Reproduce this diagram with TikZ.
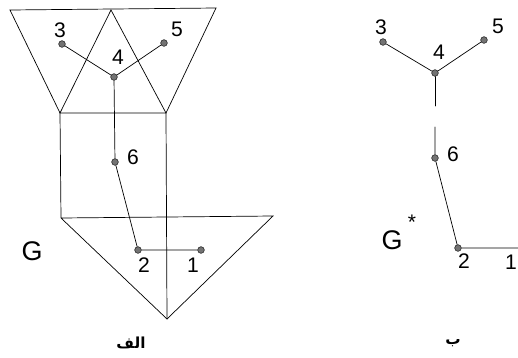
\documentclass[tikz,border=0pt]{standalone}
\usepackage{fontspec}
\setmainfont{Liberation Sans}
\newfontfamily\arabicfont[Script=Arabic]{DejaVu Sans}
\TeXXeTstate=1
\usetikzlibrary{calc,positioning}

\begin{document}
\begin{tikzpicture}[x=0.03cm,y=-0.03cm,line cap=round,line width=0.6pt,
  vtx/.style={circle,fill=black!55,draw=black!85,line width=0.5pt,inner sep=0pt,minimum size=0.2cm},
  num/.style={font=\fontsize{18}{20}\selectfont,inner sep=0pt},
  gname/.style={font=\fontsize{23}{26}\selectfont,inner sep=0pt},
  subcap/.style={font=\arabicfont\bfseries\fontsize{13}{14}\selectfont,inner sep=0pt}]
\clip (0,0) rectangle (518,358);
% faces of G
\coordinate (tl) at (10,10); \coordinate (tm) at (111,10); \coordinate (tr) at (216,8);
\coordinate (ml) at (60,113); \coordinate (mr) at (166,113);
\coordinate (bl) at (61,218); \coordinate (br) at (273,216); \coordinate (ap) at (167,319);
\draw (tl)--(tr)--(mr)--(ml)--cycle;
\draw (ml)--(tm)--(mr);
\draw (ml)--(bl)--(ap)--(br)--(bl);
\draw (mr)--(ap);
% G
\node[vtx] (v3) at (62,44) {}; \node[vtx] (v5) at (164,43) {};
\node[vtx] (v4) at (114,77) {}; \node[vtx] (v6) at (115,162) {};
\node[vtx] (v2) at (138,250) {}; \node[vtx] (v1) at (201,250) {};
\draw (v3)--(v4)--(v5); \draw (v4)--(v6)--(v2)--(v1);
\node[num] at (60,30) {3}; \node[num] at (177,29) {5}; \node[num] at (118,57) {4};
\node[num] at (133,157) {6}; \node[num] at (144,265) {2}; \node[num] at (193,265) {1};
\node[gname] (G) at (32,251) {G};
\node[subcap] at (131,343) {\beginR الف\endR};
% G*
\node[vtx] (w3) at (383,42) {}; \node[vtx] (w5) at (484,40) {};
\node[vtx] (w4) at (435,73) {}; \node[vtx] (w6) at (435,158) {};
\node[vtx] (w2) at (458,248) {}; \coordinate (w1) at (530,248);
\coordinate (g1) at (435,106); \coordinate (g2) at (435,127);
\draw (w3)--(w4)--(w5); \draw (w4)--(g1); \draw (g2)--(w6)--(w2)--(w1);
\node[num] at (381,27) {3}; \node[num] at (498,26) {5}; \node[num] at (439,52) {4};
\node[num] at (453,154) {6}; \node[num] at (464,261) {2}; \node[num] at (511,262) {1};
\node[gname] (Gs) at (392,240) {G}; \node[num] at (412,222) {*};
\node[subcap] at (453,343) {\beginR ب\endR};
\end{tikzpicture}
\end{document}
